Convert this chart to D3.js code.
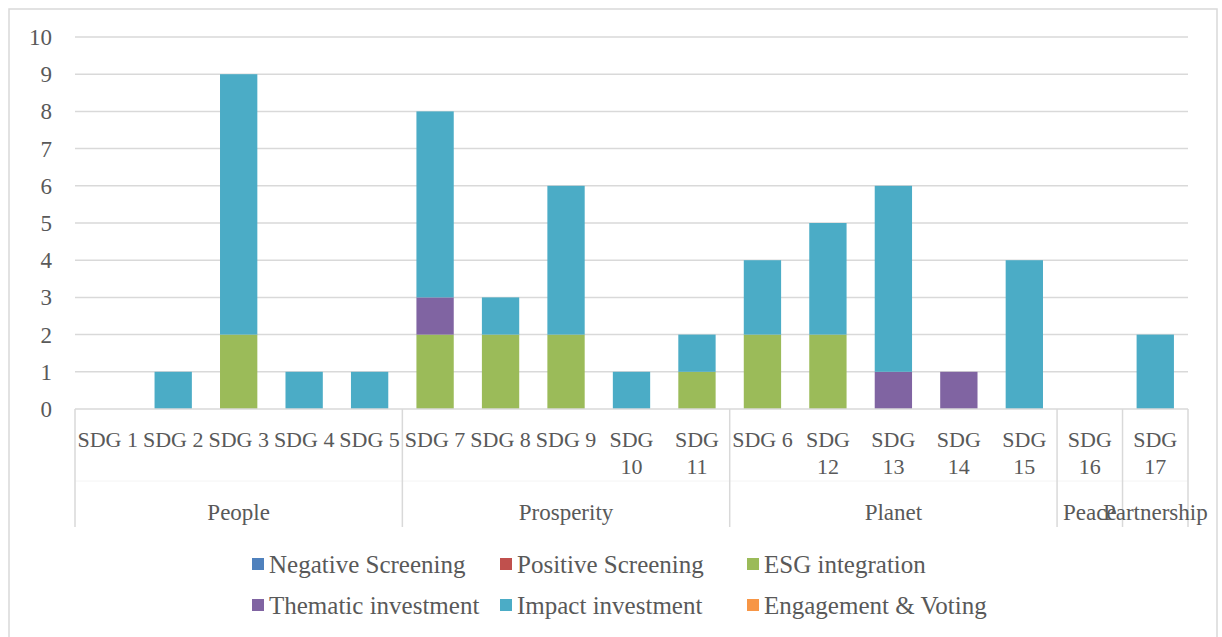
<!DOCTYPE html>
<html>
<head>
<meta charset="utf-8">
<script src="https://cdn.jsdelivr.net/npm/d3@7"></script>
<style>
  body { margin: 0; background: #fff; }
  svg text { font-family: "Liberation Serif", "Times New Roman", serif; fill: #595959; }
</style>
</head>
<body>
<svg id="chart" width="1222" height="637"></svg>
<script>
// categories (SDGs) and their pillar groups
const categories = ["SDG 1", "SDG 2", "SDG 3", "SDG 4", "SDG 5",
  "SDG 7", "SDG 8", "SDG 9", "SDG 10", "SDG 11",
  "SDG 6", "SDG 12", "SDG 13", "SDG 14", "SDG 15",
  "SDG 16", "SDG 17"];
const groups = [
  { name: "People", count: 5 },
  { name: "Prosperity", count: 5 },
  { name: "Planet", count: 5 },
  { name: "Peace", count: 1 },
  { name: "Partnership", count: 1 }
];

const seriesNames = ["Negative Screening", "Positive Screening", "ESG integration",
  "Thematic investment", "Impact investment", "Engagement & Voting"];
const colors = ["#4f81bd", "#c0504d", "#9bbb59", "#8064a2", "#4bacc6", "#f79646"];

const negativeScreening = [0, 0, 0, 0, 0, 0, 0, 0, 0, 0, 0, 0, 0, 0, 0, 0, 0];
const positiveScreening = [0, 0, 0, 0, 0, 0, 0, 0, 0, 0, 0, 0, 0, 0, 0, 0, 0];
const esgIntegration    = [0, 0, 2, 0, 0, 2, 2, 2, 0, 1, 2, 2, 0, 0, 0, 0, 0];
const thematicInvest    = [0, 0, 0, 0, 0, 1, 0, 0, 0, 0, 0, 0, 1, 1, 0, 0, 0];
const impactInvest      = [0, 1, 7, 1, 1, 5, 1, 4, 1, 1, 2, 3, 5, 0, 4, 0, 2];
const engagementVoting  = [0, 0, 0, 0, 0, 0, 0, 0, 0, 0, 0, 0, 0, 0, 0, 0, 0];

const yTicks = [0, 1, 2, 3, 4, 5, 6, 7, 8, 9, 10];

const seriesValues = [negativeScreening, positiveScreening, esgIntegration,
  thematicInvest, impactInvest, engagementVoting];

const rows = categories.map((c, i) => {
  const r = { cat: c };
  seriesNames.forEach((s, j) => r[s] = seriesValues[j][i]);
  return r;
});

const svg = d3.select("#chart");
const plotLeft = 75, plotRight = 1188, plotTop = 37, plotBottom = 409;

// outer frame
svg.append("rect")
  .attr("x", 9).attr("y", 9).attr("width", 1208).attr("height", 640)
  .attr("fill", "none").attr("stroke", "#d9d9d9").attr("stroke-width", 1.5);

const x = d3.scaleBand().domain(categories).range([plotLeft, plotRight])
  .paddingInner(0.43).paddingOuter(0.215);
const y = d3.scaleLinear().domain([0, 10]).range([plotBottom, plotTop]);

// gridlines
svg.append("g").selectAll("line")
  .data(yTicks.filter(t => t > 0))
  .enter().append("line")
  .attr("x1", plotLeft).attr("x2", plotRight)
  .attr("y1", d => y(d)).attr("y2", d => y(d))
  .attr("stroke", "#d9d9d9").attr("stroke-width", 1.5);

// y tick labels
svg.append("g").selectAll("text")
  .data(yTicks)
  .enter().append("text")
  .attr("x", 52).attr("y", d => y(d))
  .attr("dy", "0.35em")
  .attr("text-anchor", "end")
  .style("font-size", "23px")
  .text(d => d);

// stacked bars
const stack = d3.stack().keys(seriesNames)(rows);
svg.append("g").selectAll("g")
  .data(stack)
  .enter().append("g")
  .attr("fill", (d, i) => colors[i])
  .selectAll("rect")
  .data(d => d.filter(p => p[1] - p[0] > 0))
  .enter().append("rect")
  .attr("x", d => x(d.data.cat))
  .attr("width", x.bandwidth())
  .attr("y", d => y(d[1]))
  .attr("height", d => y(d[0]) - y(d[1]));

// category axis
const step = x.step();
svg.append("line")
  .attr("x1", plotLeft).attr("x2", plotRight).attr("y1", plotBottom).attr("y2", plotBottom)
  .attr("stroke", "#d9d9d9").attr("stroke-width", 1.5);
svg.append("line")
  .attr("x1", plotLeft).attr("x2", plotRight).attr("y1", 481).attr("y2", 481)
  .attr("stroke", "#f4f4f4").attr("stroke-width", 1);

// group separators
let acc = 0;
const bounds = [0];
groups.forEach(g => { acc += g.count; bounds.push(acc); });
svg.append("g").selectAll("line")
  .data(bounds)
  .enter().append("line")
  .attr("x1", d => plotLeft + d * step).attr("x2", d => plotLeft + d * step)
  .attr("y1", plotBottom).attr("y2", 527)
  .attr("stroke", "#d9d9d9").attr("stroke-width", 1.5);

// tick labels, wrapped when wider than the slot
const tl = svg.append("g").selectAll("text")
  .data(categories)
  .enter().append("text")
  .attr("x", d => x(d) + x.bandwidth() / 2)
  .attr("y", 447)
  .attr("text-anchor", "middle")
  .style("font-size", "22px")
  .text(d => d);
tl.each(function (d) {
  const t = d3.select(this);
  if (this.getComputedTextLength() > step - 1) {
    const parts = d.split(" ");
    t.text(null);
    parts.forEach((p, i) => {
      t.append("tspan")
        .attr("x", x(d) + x.bandwidth() / 2)
        .attr("dy", i === 0 ? 0 : 27)
        .text(p);
    });
  }
});

// group labels
svg.append("g").selectAll("text")
  .data(groups)
  .enter().append("text")
  .attr("x", (d, i) => plotLeft + (bounds[i] + d.count / 2) * step)
  .attr("y", 520)
  .attr("text-anchor", "middle")
  .style("font-size", "23px")
  .text(d => d.name);

// legend
const legX = [252, 500, 747];
const legY = [564, 605];
const leg = svg.append("g").selectAll("g")
  .data(seriesNames)
  .enter().append("g")
  .attr("transform", (d, i) => `translate(${legX[i % 3]},${legY[Math.floor(i / 3)]})`);
leg.append("rect")
  .attr("x", 0).attr("y", -6).attr("width", 12).attr("height", 12)
  .attr("fill", (d, i) => colors[i]);
leg.append("text")
  .attr("x", 17).attr("y", 0).attr("dy", "0.35em")
  .style("font-size", "25px")
  .text(d => d);
</script>
</body>
</html>
